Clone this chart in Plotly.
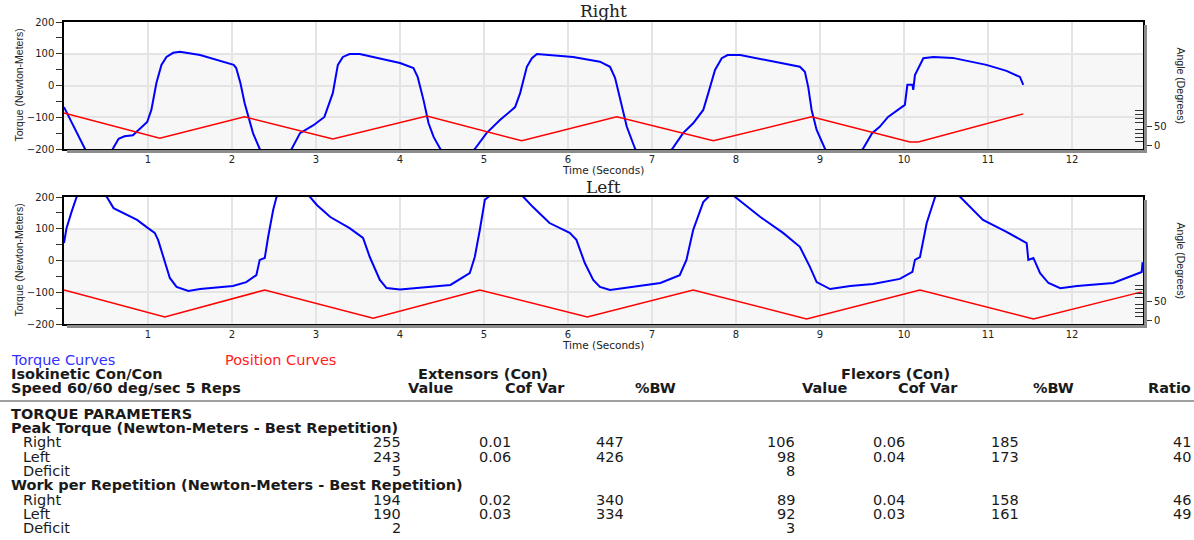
import plotly.graph_objects as go

# ---------------- data ----------------
time_ticks = [1, 2, 3, 4, 5, 6, 7, 8, 9, 10, 11, 12]
torque_ticks = [-200, -100, 0, 100, 200]
torque_minor = [-150, -50, 50, 150]
angle_ticks = [0, 50]
angle_minor = [10, 20, 30, 40, 60, 70, 80, 90]

right_time = [0.00, 0.25, 0.42, 0.58, 0.65, 0.72, 0.82, 0.99, 1.04, 1.10, 1.16, 1.22, 1.30, 1.38,
              1.62, 1.82, 2.02, 2.05, 2.10, 2.15, 2.20, 2.25, 2.33, 2.52, 2.71, 2.81, 2.97, 3.10,
              3.20, 3.26, 3.32, 3.40, 3.52, 3.80, 4.00, 4.16, 4.21, 4.28, 4.34, 4.40, 4.48, 4.68,
              4.89, 5.03, 5.19, 5.37, 5.43, 5.51, 5.57, 5.63, 5.78, 6.06, 6.38, 6.50, 6.56, 6.62,
              6.70, 6.80, 7.02, 7.24, 7.37, 7.49, 7.61, 7.67, 7.75, 7.83, 7.90, 8.05, 8.36, 8.76,
              8.82, 8.86, 8.90, 8.96, 9.06, 9.28, 9.51, 9.62, 9.71, 9.81, 10.01, 10.04, 10.10, 10.11,
              10.13, 10.17, 10.23, 10.35, 10.58, 10.98, 11.22, 11.38, 11.42]
right_torque = [-68, -200, -255, -200, -168, -160, -157, -115, -77, 8, 65, 90, 103, 106,
                96, 80, 65, 55, 8, -55, -99, -150, -200, -250, -200, -150, -125, -99,
                -24, 65, 90, 99, 99, 83, 71, 55, 27, -46, -119, -162, -200, -252,
                -200, -150, -109, -68, -24, 59, 86, 99, 96, 90, 75, 59, 24, -46,
                -130, -200, -250, -200, -150, -119, -77, -24, 49, 86, 96, 96, 80, 59,
                43, -5, -77, -140, -200, -248, -200, -150, -130, -99, -61, 2, 2, -14,
                33, 55, 86, 90, 87, 65, 46, 27, 2]
right_pos_time = [0.00, 1.14, 2.15, 3.20, 4.32, 5.45, 6.58, 7.73, 8.90, 10.07, 10.17, 11.42]
right_pos_angle = [84, 18, 74, 16, 76, 11, 74, 11, 74, 8, 8, 82]

left_time = [0.00, 0.03, 0.09, 0.15, 0.33, 0.51, 0.59, 0.70, 0.87, 0.98, 1.08, 1.12, 1.18, 1.26,
             1.34, 1.48, 1.62, 2.01, 2.17, 2.29, 2.33, 2.39, 2.43, 2.49, 2.53, 2.73, 2.93, 3.01,
             3.17, 3.40, 3.56, 3.64, 3.76, 3.84, 4.00, 4.60, 4.83, 4.89, 4.95, 5.01, 5.05, 5.26,
             5.47, 5.58, 5.78, 6.02, 6.10, 6.20, 6.30, 6.38, 6.50, 6.77, 7.10, 7.33, 7.41, 7.49,
             7.61, 7.67, 7.83, 7.99, 8.29, 8.56, 8.76, 8.88, 8.96, 9.12, 9.36, 9.63, 9.95, 10.10,
             10.13, 10.19, 10.27, 10.37, 10.52, 10.67, 10.94, 11.22, 11.46, 11.48, 11.54, 11.62,
             11.72, 11.86, 12.06, 12.49, 12.83, 12.84]
left_torque = [55, 102, 153, 200, 243, 200, 165, 150, 128, 106, 87, 65, 11, -55,
               -83, -96, -90, -80, -68, -46, 2, 8, 74, 159, 200, 238, 200, 175,
               137, 102, 71, 11, -61, -87, -91, -77, -40, 11, 96, 191, 200, 240,
               200, 169, 118, 87, 65, -8, -61, -83, -93, -83, -71, -46, 2, 96,
               184, 200, 235, 200, 137, 87, 43, -20, -68, -90, -80, -74, -58, -36,
               2, 11, 118, 200, 236, 200, 128, 90, 55, 2, 8, -40,
               -71, -87, -80, -71, -36, -5]
left_pos_time = [0.00, 1.20, 2.39, 3.68, 4.95, 6.23, 7.49, 8.84, 10.19, 11.54, 12.83]
left_pos_angle = [79, 8, 79, 5, 79, 8, 79, 3, 79, 3, 74]

# table values
row_labels = ["Right", "Left", "Deficit"]
peak_ext_value = ["255", "243", "5"]
peak_ext_cov = ["0.01", "0.06", ""]
peak_ext_bw = ["447", "426", ""]
peak_flex_value = ["106", "98", "8"]
peak_flex_cov = ["0.06", "0.04", ""]
peak_flex_bw = ["185", "173", ""]
peak_ratio = ["41", "40", ""]
work_ext_value = ["194", "190", "2"]
work_ext_cov = ["0.02", "0.03", ""]
work_ext_bw = ["340", "334", ""]
work_flex_value = ["89", "92", "3"]
work_flex_cov = ["0.04", "0.03", ""]
work_flex_bw = ["158", "161", ""]
work_ratio = ["46", "49", ""]

# ---------------- layout helpers ----------------
W, H = 1194, 540
L, R, T, B = 64, 1143, 22, 324
def px(x):
    return (x - L) / (R - L)
def py(y):
    return (B - y) / (B - T)

TOP = (22, 149)
BOT = (197, 324)
BLUE = "#0000ff"
RED = "#ff0000"
GRID = "#e4e4e4"
TF = "DejaVu Sans"

fig = go.Figure()
fig.add_trace(go.Scatter(x=right_time, y=right_torque, mode="lines", xaxis="x", yaxis="y",
                         line=dict(color=BLUE, width=2), showlegend=False))
fig.add_trace(go.Scatter(x=right_pos_time, y=right_pos_angle, mode="lines", xaxis="x", yaxis="y2",
                         line=dict(color=RED, width=1.5), showlegend=False))
fig.add_trace(go.Scatter(x=left_time, y=left_torque, mode="lines", xaxis="x2", yaxis="y3",
                         line=dict(color=BLUE, width=2), showlegend=False))
fig.add_trace(go.Scatter(x=left_pos_time, y=left_pos_angle, mode="lines", xaxis="x2", yaxis="y4",
                         line=dict(color=RED, width=1.5), showlegend=False))

xcommon = dict(range=[0, 12.845], tickvals=time_ticks, showgrid=True, gridcolor=GRID, gridwidth=1.5,
               showline=True, linecolor="black", linewidth=1.5, mirror=True, ticks="",
               zeroline=False, tickfont=dict(family=TF, size=10, color="#222"))
ycommon = dict(range=[-200, 200], tickvals=torque_ticks, ticks="outside", ticklen=6, tickcolor="#333",
               minor=dict(tickvals=torque_minor, ticks="outside", ticklen=6, tickcolor="#333", showgrid=False),
               showgrid=True, gridcolor=GRID, gridwidth=1.5, showline=True, linecolor="black",
               linewidth=1.5, mirror=True, zeroline=False,
               tickfont=dict(family=TF, size=10, color="#222"))
acommon = dict(range=[-10.5, 323.7], tickvals=angle_ticks, ticks="outside", ticklen=8, tickcolor="#333",
               minor=dict(tickvals=angle_minor, ticks="inside", ticklen=8, tickcolor="#333"),
               side="right", showgrid=False, zeroline=False, showline=False,
               tickfont=dict(family=TF, size=10, color="#222"))

fig.update_layout(
    width=W, height=H,
    margin=dict(l=L, r=W - R, t=T, b=H - B, pad=0),
    paper_bgcolor="white", plot_bgcolor="white",
    xaxis=dict(xcommon, domain=[0, 1], anchor="y"),
    yaxis=dict(ycommon, domain=[py(TOP[1]), py(TOP[0])], anchor="x"),
    yaxis2=dict(acommon, overlaying="y", anchor="x"),
    xaxis2=dict(xcommon, domain=[0, 1], anchor="y3"),
    yaxis3=dict(ycommon, domain=[py(BOT[1]), py(BOT[0])], anchor="x2"),
    yaxis4=dict(acommon, overlaying="y3", anchor="x2"),
)

shapes = []
for xd, yr, (top, bot) in [("x domain", "y", TOP), ("x2 domain", "y3", BOT)]:
    shapes.append(dict(type="rect", xref=xd, yref=yr, x0=0, x1=1, y0=-200, y1=100,
                       fillcolor="#f7f7f7", line=dict(width=0), layer="below"))
    shapes.append(dict(type="rect", xref="paper", yref="paper", x0=px(R + 1), x1=px(R + 4),
                       y0=py(bot + 4), y1=py(top + 3), fillcolor="#8c8c8c", line=dict(width=0)))
    shapes.append(dict(type="rect", xref="paper", yref="paper", x0=px(L + 3), x1=px(R + 4),
                       y0=py(bot + 4), y1=py(bot + 1), fillcolor="#8c8c8c", line=dict(width=0)))
shapes.append(dict(type="line", xref="paper", yref="paper", x0=px(0), x1=px(W), y0=py(401), y1=py(401),
                   line=dict(color="#808080", width=1.5)))
fig.update_layout(shapes=shapes)

ann = []
def text(s, x, y, anchor="left", size=14.5, color="#1a1a1a", family=TF, angle=0):
    ann.append(dict(text=s, x=px(x), y=py(y), xref="paper", yref="paper", xanchor=anchor,
                    yanchor="middle", showarrow=False, textangle=angle, borderpad=0,
                    font=dict(family=family, size=size, color=color)))

# chart titles / axis titles
text("Right", 603, 11, "center", 17, "#222", "DejaVu Serif")
text("Left", 603, 187, "center", 17, "#222", "DejaVu Serif")
text("Time (Seconds)", 603, 169.5, "center", 10.5, "#222")
text("Time (Seconds)", 603, 345, "center", 10.5, "#222")
for (top, bot) in [TOP, BOT]:
    text("Torque (Newton-Meters)", 18, (top + bot) / 2, "center", 10.5, "#222", "Liberation Sans", -90)
    text("Angle (Degrees)", 1181, (top + bot) / 2, "center", 10.5, "#222", "Liberation Sans", 90)

# table
text("Torque Curves", 10, 360, "left", 14.5, "#3030ff")
text("Position Curves", 224, 360, "left", 14.5, "#ff2020")
text("<b>Isokinetic Con/Con</b>", 10, 374)
text("<b>Extensors (Con)</b>", 483, 374, "center")
text("<b>Flexors (Con)</b>", 895, 374, "center")
text("<b>Speed 60/60 deg/sec 5 Reps</b>", 10, 388)
headers = ["Value", "Cof Var", "%BW", "Value", "Cof Var", "%BW", "Ratio"]
header_x = [(431, "center"), (535, "center"), (655, "center"), (825, "center"),
            (928, "center"), (1053, "center"), (1192, "right")]
for h, (hx, ha) in zip(headers, header_x):
    text("<b>%s</b>" % h, hx, 388, ha)
text("<b>TORQUE PARAMETERS</b>", 10, 414)

col_x = [(402, "right"), (495, "center"), (610, "center"), (796, "right"),
         (889, "center"), (1005, "center"), (1192, "right")]
sections = [
    ("Peak Torque (Newton-Meters - Best Repetition)", 428,
     [peak_ext_value, peak_ext_cov, peak_ext_bw, peak_flex_value, peak_flex_cov, peak_flex_bw, peak_ratio]),
    ("Work per Repetition (Newton-Meters - Best Repetition)", 485.2,
     [work_ext_value, work_ext_cov, work_ext_bw, work_flex_value, work_flex_cov, work_flex_bw, work_ratio]),
]
for title, ty, cols in sections:
    text("<b>%s</b>" % title, 10, ty)
    for i, lab in enumerate(row_labels):
        ry = ty + 14.3 * (i + 1)
        text(lab, 22, ry)
        for col, (cx, ca) in zip(cols, col_x):
            if col[i]:
                text(col[i], cx, ry, ca)

fig.update_layout(annotations=ann)

fig.write_html("out.html", config={"displayModeBar": False},
               post_script="document.body.style.margin='0px';document.body.style.overflow='hidden';")
